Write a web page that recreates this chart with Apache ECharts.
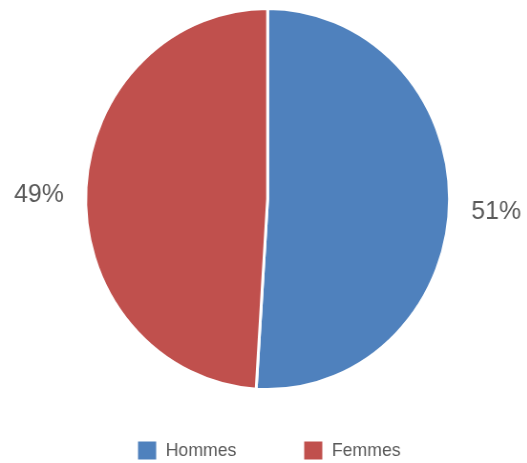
<!DOCTYPE html>
<html>
<head>
<meta charset="utf-8">
<script src="https://cdn.jsdelivr.net/npm/echarts@6/dist/echarts.min.js"></script>
<style>
  html, body { margin: 0; padding: 0; background: #fff; overflow: hidden; }
  #wrap { width: 527px; height: 463px; overflow: hidden; }
  /* chart is drawn slightly wider, then compressed horizontally to an oval pie */
  #chart { width: 552px; height: 463px; transform: scaleX(0.955); transform-origin: 0 0; }
</style>
</head>
<body>
<div id="wrap"><div id="chart"></div></div>
<script>
const categories = ['Hommes', 'Femmes'];
const shares = [51, 49];
const colors = ['#4F81BD', '#C0504D'];

const chart = echarts.init(document.getElementById('chart'), null, { renderer: 'canvas' });

// vertical nudge of each percentage label
const labelShift = [7, 2];

chart.setOption({
  animation: false,
  color: colors,
  legend: {
    data: categories,
    left: 144.5,
    top: 441,
    padding: 0,
    itemWidth: 19,
    itemHeight: 18,
    itemGap: 71,
    icon: 'rect',
    itemStyle: { borderWidth: 0 },
    textStyle: {
      fontFamily: 'Liberation Sans, Arial, sans-serif',
      fontSize: 18.5,
      color: '#595959',
      padding: [5, 0, 0, 5]
    }
  },
  series: [{
    type: 'pie',
    center: [280.2, 199],
    radius: [0, 190.5],
    startAngle: 90,
    clockwise: true,
    avoidLabelOverlap: false,
    data: categories.map((name, i) => ({ name, value: shares[i] })),
    itemStyle: { borderColor: '#ffffff', borderWidth: 3 },
    label: {
      show: true,
      position: 'outside',
      formatter: '{c}%',
      fontFamily: 'Liberation Sans, Arial, sans-serif',
      fontSize: 26,
      color: '#595959'
    },
    labelLine: { show: false, length: 10, length2: 8 },
    labelLayout: (params) => ({ dy: labelShift[params.dataIndex] }),
    emphasis: { disabled: true }
  }]
});
</script>
</body>
</html>
